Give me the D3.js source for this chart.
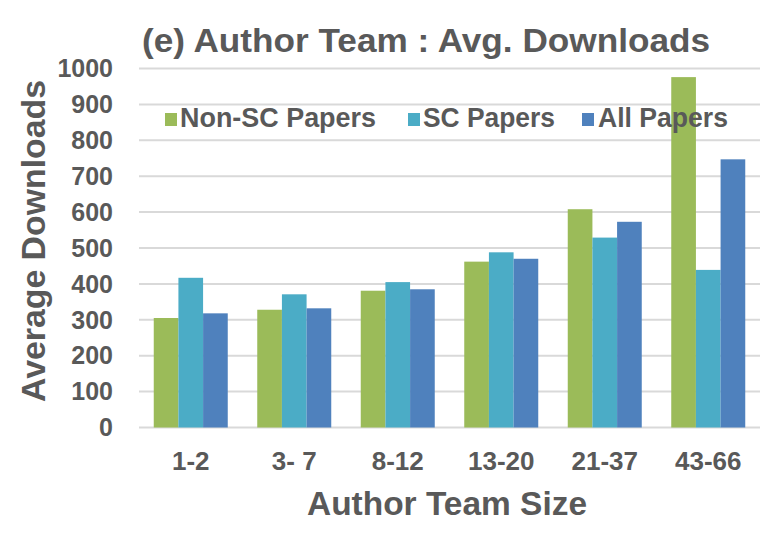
<!DOCTYPE html>
<html>
<head>
<meta charset="utf-8">
<script src="https://cdn.jsdelivr.net/npm/d3@7"></script>
<style>
  body { margin: 0; background: #fff; }
  text { font-family: "Liberation Sans", Arial, sans-serif; font-weight: bold; fill: #595959; }
</style>
</head>
<body>
<svg id="chart" width="765" height="541"></svg>
<script>
// data
const categories = ['1-2', '3- 7', '8-12', '13-20', '21-37', '43-66'];
const seriesNames = ['Non-SC Papers', 'SC Papers', 'All Papers'];
const nonSC = [305, 328, 381, 462, 608, 976];
const sc = [417, 371, 405, 488, 529, 439];
const allPapers = [318, 332, 385, 470, 573, 747];
const yTicks = [0, 100, 200, 300, 400, 500, 600, 700, 800, 900, 1000];

const colors = ['#9bbb59', '#4bacc6', '#4f81bd'];
const plotLeft = 139, plotRight = 760, plotTop = 68.5, plotBottom = 427.5;

const svg = d3.select('#chart');

const rows = categories.map((c, i) => ({cat: c, vals: [nonSC[i], sc[i], allPapers[i]]}));

const x = d3.scaleBand().domain(categories).range([plotLeft, plotRight]).paddingInner(0.285).paddingOuter(0.1425);
const x1 = d3.scaleBand().domain(d3.range(3)).range([0, x.bandwidth()]);
const y = d3.scaleLinear().domain([0, 1000]).range([plotBottom, plotTop]);

// gridlines
svg.append('g')
  .selectAll('line')
  .data(yTicks)
  .join('line')
  .attr('x1', plotLeft).attr('x2', plotRight)
  .attr('y1', d => y(d)).attr('y2', d => y(d))
  .attr('stroke', '#d9d9d9')
  .attr('stroke-width', 2);

// y axis labels
const yAxis = svg.append('g')
  .attr('transform', 'translate(113,0)')
  .call(d3.axisLeft(y).tickValues(yTicks).tickFormat(d3.format('d')).tickSize(0).tickPadding(0));
yAxis.select('.domain').remove();
yAxis.selectAll('text')
  .attr('font-size', 25)
  .attr('dy', '0.33em')
  .style('font-family', '"Liberation Sans", Arial, sans-serif')
  .style('font-weight', 'bold')
  .attr('fill', '#595959');

// bars
svg.append('g')
  .selectAll('g')
  .data(rows)
  .join('g')
  .attr('transform', d => 'translate(' + x(d.cat) + ',0)')
  .selectAll('rect')
  .data(d => d.vals.map((v, k) => ({k: k, v: v})))
  .join('rect')
  .attr('x', d => x1(d.k))
  .attr('width', x1.bandwidth())
  .attr('y', d => y(d.v))
  .attr('height', d => y(0) - y(d.v))
  .attr('fill', d => colors[d.k]);

// x axis labels
const xAxis = svg.append('g')
  .attr('transform', 'translate(0,' + plotBottom + ')')
  .call(d3.axisBottom(x).tickSize(0).tickPadding(0));
xAxis.select('.domain').remove();
xAxis.selectAll('text')
  .attr('font-size', 26)
  .attr('y', 42)
  .attr('dy', 0)
  .style('font-family', '"Liberation Sans", Arial, sans-serif')
  .style('font-weight', 'bold')
  .attr('fill', '#595959');

// title
svg.append('text')
  .attr('x', 142).attr('y', 52)
  .attr('font-size', 34)
  .attr('textLength', 568)
  .attr('lengthAdjust', 'spacingAndGlyphs')
  .text('(e) Author Team : Avg. Downloads');

// axis titles
svg.append('text')
  .attr('x', 447).attr('y', 515)
  .attr('text-anchor', 'middle')
  .attr('font-size', 33)
  .attr('textLength', 280)
  .attr('lengthAdjust', 'spacingAndGlyphs')
  .text('Author Team Size');

svg.append('text')
  .attr('transform', 'translate(45,241) rotate(-90)')
  .attr('text-anchor', 'middle')
  .attr('font-size', 33)
  .attr('textLength', 322)
  .attr('lengthAdjust', 'spacingAndGlyphs')
  .text('Average Downloads');

// legend
const legendSwatchX = [165, 408, 582];
const legendTextX = [180, 423, 598];
const legendTextW = [196, 132, 130];
const legend = svg.append('g')
  .selectAll('g')
  .data(seriesNames)
  .join('g');
legend.append('rect')
  .attr('x', (d, i) => legendSwatchX[i]).attr('y', 113)
  .attr('width', 12).attr('height', 13)
  .attr('fill', (d, i) => colors[i]);
legend.append('text')
  .attr('x', (d, i) => legendTextX[i]).attr('y', 127)
  .attr('font-size', 27)
  .attr('textLength', (d, i) => legendTextW[i])
  .attr('lengthAdjust', 'spacingAndGlyphs')
  .text(d => d);
</script>
</body>
</html>
